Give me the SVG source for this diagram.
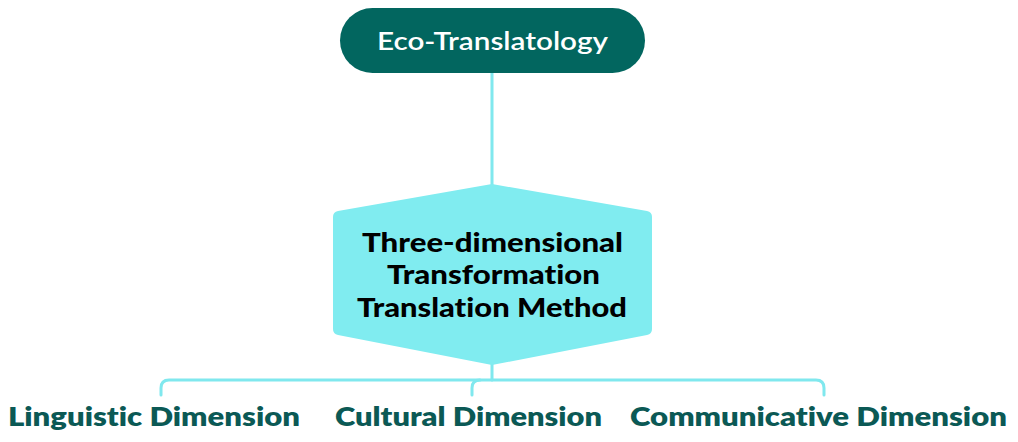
<svg xmlns="http://www.w3.org/2000/svg" width="1018" height="442" viewBox="0 0 1018 442">
<style>
text{font-variant-ligatures:none}
.conn{fill:none;stroke:#80E8EE;stroke-width:3;stroke-linecap:round;stroke-linejoin:round}
.lbl{font-family:Lato,"Liberation Sans",sans-serif;font-weight:800;font-size:27px;fill:#0B5955;text-anchor:middle}
.hex{font-family:Lato,"Liberation Sans",sans-serif;font-weight:900;font-size:27px;fill:#000;text-anchor:middle}
</style>
<rect width="1018" height="442" fill="#fff"/>
<g id="connectors">
<path class="conn" d="M492,73 V186"/>
<path class="conn" d="M492,364 V380"/>
<path class="conn" d="M161,395 V388 Q161,380 169,380 H816 Q824,380 824,388 V395"/>
<path class="conn" d="M472,395 V388 Q472,380 480,380"/>
</g>
<g id="eco">
<rect x="340" y="8" width="305" height="65" rx="32.5" fill="#02665F"/>
<text x="492.5" y="50" font-family="Lato,'Liberation Sans',sans-serif" font-weight="600" font-size="24" fill="#fff" text-anchor="middle" textLength="231" lengthAdjust="spacingAndGlyphs">Eco-Translatology</text>
</g>
<g id="method">
<path d="M492,184 L647,211 Q652,212 652,217 L652,329 Q652,334 647,335 L492,365 L338,335 Q333,334 333,329 L333,217 Q333,212 338,211 Z" fill="#80ECF0"/>
<text class="hex" x="492.5" y="252" textLength="261" lengthAdjust="spacingAndGlyphs">Three-dimensional</text>
<text class="hex" x="493.5" y="284" textLength="213" lengthAdjust="spacingAndGlyphs">Transformation</text>
<text class="hex" x="492" y="317" textLength="270" lengthAdjust="spacingAndGlyphs">Translation Method</text>
</g>
<g id="linguistic"><text class="lbl" x="154" y="426" textLength="292" lengthAdjust="spacingAndGlyphs">Linguistic Dimension</text></g>
<g id="cultural"><text class="lbl" x="468.5" y="426" textLength="267" lengthAdjust="spacingAndGlyphs">Cultural Dimension</text></g>
<g id="communicative"><text class="lbl" x="818.5" y="426" textLength="377" lengthAdjust="spacingAndGlyphs">Communicative Dimension</text></g>
</svg>
